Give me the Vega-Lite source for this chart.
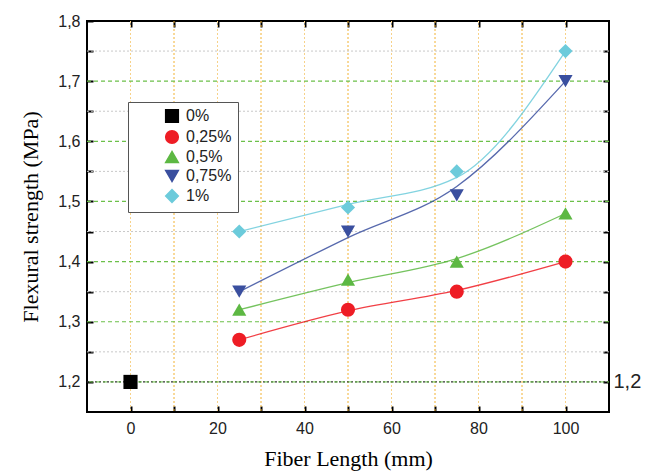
{
  "$schema": "https://vega.github.io/schema/vega-lite/v6.json",
  "width": 522,
  "height": 391,
  "autosize": {"type": "none"},
  "padding": {"left": 87, "top": 21, "right": 39, "bottom": 61},
  "background": "white",
  "config": {
    "view": {"stroke": "black", "strokeWidth": 2},
    "axis": {
      "domain": false,
      "grid": false,
      "tickSize": -6,
      "tickWidth": 2,
      "tickColor": "black",
      "labelFont": "Liberation Sans",
      "labelColor": "#222222",
      "titleFont": "Liberation Serif",
      "titleFontWeight": "normal",
      "titleColor": "black"
    },
    "legend": {
      "orient": "none",
      "legendX": 41,
      "legendY": 81,
      "padding": 6,
      "strokeColor": "#555555",
      "fillColor": "white",
      "labelFont": "Liberation Sans",
      "labelFontSize": 16,
      "labelColor": "#222222",
      "labelOffset": 6,
      "symbolSize": 160,
      "rowPadding": 1,
      "symbolOffset": 30
    }
  },
  "datasets": {
    "pts": [
      {"len": 0, "fs": 1.2, "s": "0%"},
      {"len": 25, "fs": 1.27, "s": "0,25%"},
      {"len": 50, "fs": 1.32, "s": "0,25%"},
      {"len": 75, "fs": 1.35, "s": "0,25%"},
      {"len": 100, "fs": 1.40, "s": "0,25%"},
      {"len": 25, "fs": 1.32, "s": "0,5%"},
      {"len": 50, "fs": 1.37, "s": "0,5%"},
      {"len": 75, "fs": 1.40, "s": "0,5%"},
      {"len": 100, "fs": 1.48, "s": "0,5%"},
      {"len": 25, "fs": 1.35, "s": "0,75%"},
      {"len": 50, "fs": 1.45, "s": "0,75%"},
      {"len": 75, "fs": 1.51, "s": "0,75%"},
      {"len": 100, "fs": 1.70, "s": "0,75%"},
      {"len": 25, "fs": 1.45, "s": "1%"},
      {"len": 50, "fs": 1.49, "s": "1%"},
      {"len": 75, "fs": 1.55, "s": "1%"},
      {"len": 100, "fs": 1.75, "s": "1%"}
    ],
    "curves": [
      {"len": 25, "fs": 1.27, "s": "0,25%"},
      {"len": 50, "fs": 1.318, "s": "0,25%"},
      {"len": 75, "fs": 1.352, "s": "0,25%"},
      {"len": 100, "fs": 1.40, "s": "0,25%"},
      {"len": 25, "fs": 1.32, "s": "0,5%"},
      {"len": 50, "fs": 1.365, "s": "0,5%"},
      {"len": 75, "fs": 1.405, "s": "0,5%"},
      {"len": 100, "fs": 1.48, "s": "0,5%"},
      {"len": 25, "fs": 1.35, "s": "0,75%"},
      {"len": 50, "fs": 1.44, "s": "0,75%"},
      {"len": 75, "fs": 1.525, "s": "0,75%"},
      {"len": 100, "fs": 1.70, "s": "0,75%"},
      {"len": 25, "fs": 1.45, "s": "1%"},
      {"len": 50, "fs": 1.495, "s": "1%"},
      {"len": 75, "fs": 1.54, "s": "1%"},
      {"len": 100, "fs": 1.75, "s": "1%"}
    ]
  },
  "resolve": {"axis": {"x": "independent", "y": "independent"}},
  "layer": [
    {
      "data": {"values": [{"v": 10}, {"v": 30}, {"v": 50}, {"v": 70}, {"v": 90}]},
      "mark": {"type": "rule", "color": "#f2b233", "strokeWidth": 1, "strokeDash": [2, 2]},
      "encoding": {
        "x": {
          "field": "v", "type": "quantitative",
          "scale": {"domain": [-10, 110], "nice": false, "zero": false},
          "axis": {
            "orient": "bottom",
            "values": [0, 10, 20, 30, 40, 50, 60, 70, 80, 90, 100],
            "labelExpr": "datum.value % 20 == 0 ? datum.label : ''",
            "format": "d",
            "labelFontSize": 16,
            "labelPadding": 14,
            "title": "Fiber Length (mm)",
            "titleFontSize": 22,
            "titlePadding": 12
          }
        }
      }
    },
    {
      "data": {"values": [{"v": 0}, {"v": 20}, {"v": 40}, {"v": 60}, {"v": 80}, {"v": 100}]},
      "mark": {"type": "rule", "color": "#f7d28a", "strokeWidth": 1, "strokeDash": [2, 2]},
      "encoding": {
        "x": {
          "field": "v", "type": "quantitative",
          "scale": {"domain": [-10, 110], "nice": false, "zero": false},
          "axis": {
            "orient": "top",
            "values": [0, 10, 20, 30, 40, 50, 60, 70, 80, 90, 100],
            "labels": false,
            "title": null
          }
        }
      }
    },
    {
      "data": {"values": [{"v": 1.25}, {"v": 1.35}, {"v": 1.45}, {"v": 1.55}, {"v": 1.65}, {"v": 1.75}]},
      "mark": {"type": "rule", "color": "#c8c8c8", "strokeWidth": 1, "strokeDash": [2, 2]},
      "encoding": {
        "y": {
          "field": "v", "type": "quantitative",
          "scale": {"domain": [1.15, 1.8], "nice": false, "zero": false},
          "axis": {
            "orient": "left",
            "values": [1.2, 1.25, 1.3, 1.35, 1.4, 1.45, 1.5, 1.55, 1.6, 1.65, 1.7, 1.75, 1.8],
            "labelExpr": "abs(datum.value * 10 - round(datum.value * 10)) < 0.01 ? replace(format(datum.value, '.1f'), '.', ',') : ''",
            "labelFontSize": 16,
            "labelPadding": 13,
            "title": "Flexural strength (MPa)",
            "titleFontSize": 22,
            "titlePadding": 15
          }
        }
      }
    },
    {
      "data": {"values": [{"v": 1.3}, {"v": 1.4}, {"v": 1.5}, {"v": 1.6}, {"v": 1.7}]},
      "mark": {"type": "rule", "color": "#6cc04a", "strokeWidth": 1.2, "strokeDash": [4, 3]},
      "encoding": {
        "y": {
          "field": "v", "type": "quantitative",
          "scale": {"domain": [1.15, 1.8], "nice": false, "zero": false},
          "axis": {
            "orient": "right",
            "values": [1.2, 1.25, 1.3, 1.35, 1.4, 1.45, 1.5, 1.55, 1.6, 1.65, 1.7, 1.75],
            "labelExpr": "abs(datum.value - 1.2) < 0.001 ? '1,2' : ''",
            "labelFontSize": 20,
            "labelPadding": 10,
            "title": null
          }
        }
      }
    },
    {
      "data": {"values": [{"v": 1.2}]},
      "mark": {"type": "rule", "color": "#333333", "strokeWidth": 1.2, "strokeDash": [2, 2]},
      "encoding": {
        "y": {
          "field": "v", "type": "quantitative",
          "scale": {"domain": [1.15, 1.8], "nice": false, "zero": false},
          "axis": null
        }
      }
    },
    {
      "data": {"values": [{"v": 1.2}]},
      "mark": {"type": "rule", "color": "#6cc04a", "strokeWidth": 1, "strokeDash": [4, 3], "strokeDashOffset": 2},
      "encoding": {
        "y": {
          "field": "v", "type": "quantitative",
          "scale": {"domain": [1.15, 1.8], "nice": false, "zero": false},
          "axis": null
        }
      }
    },
    {
      "data": {"name": "curves"},
      "mark": {"type": "line", "interpolate": "monotone", "strokeWidth": 1.3, "strokeOpacity": 0.85},
      "encoding": {
        "x": {"field": "len", "type": "quantitative", "scale": {"domain": [-10, 110], "nice": false, "zero": false}, "axis": null},
        "y": {"field": "fs", "type": "quantitative", "scale": {"domain": [1.15, 1.8], "nice": false, "zero": false}, "axis": null},
        "color": {
          "field": "s", "type": "nominal",
          "scale": {"domain": ["0%", "0,25%", "0,5%", "0,75%", "1%"], "range": ["#000000", "#ee1d25", "#5db843", "#3a4f9f", "#6ccbdb"]},
          "legend": {"title": null}
        }
      }
    },
    {
      "data": {"name": "pts"},
      "mark": {"type": "point", "filled": true, "opacity": 1, "size": 200},
      "encoding": {
        "x": {"field": "len", "type": "quantitative", "scale": {"domain": [-10, 110], "nice": false, "zero": false}, "axis": null},
        "y": {"field": "fs", "type": "quantitative", "scale": {"domain": [1.15, 1.8], "nice": false, "zero": false}, "axis": null},
        "color": {
          "field": "s", "type": "nominal",
          "scale": {"domain": ["0%", "0,25%", "0,5%", "0,75%", "1%"], "range": ["#000000", "#ee1d25", "#5db843", "#3a4f9f", "#6ccbdb"]},
          "legend": {"title": null}
        },
        "shape": {
          "field": "s", "type": "nominal",
          "scale": {"domain": ["0%", "0,25%", "0,5%", "0,75%", "1%"], "range": ["square", "circle", "triangle-up", "triangle-down", "diamond"]},
          "legend": {"title": null}
        }
      }
    }
  ]
}
